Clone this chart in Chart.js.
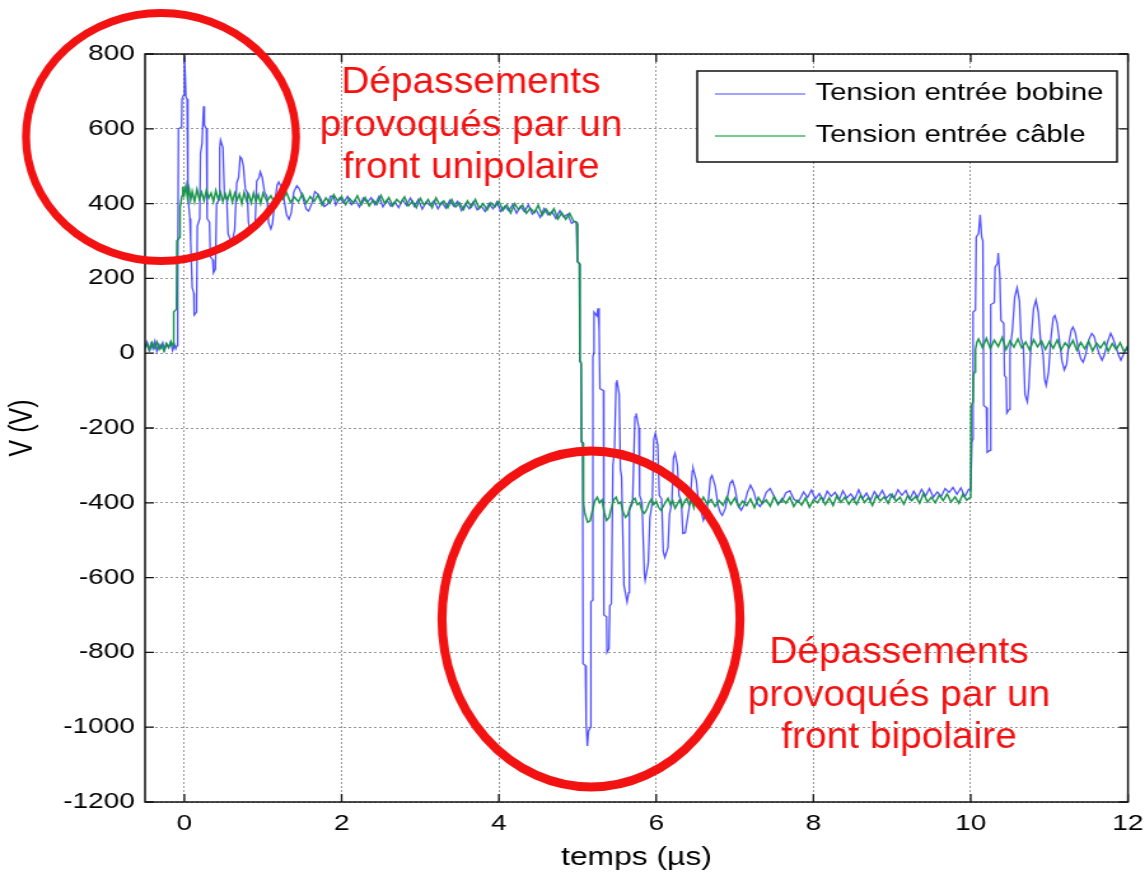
<!DOCTYPE html>
<html>
<head>
<meta charset="utf-8">
<script src="https://cdn.jsdelivr.net/npm/chart.js@4.4.1/dist/chart.umd.min.js"></script>
<style>
  html, body { margin: 0; padding: 0; background: #fff; overflow: hidden; }
  #wrap { width: 900px; height: 880px; transform: scale(1.2722222, 1); transform-origin: 0 0; }
  #c { display: block; }
</style>
</head>
<body>
<div id="wrap"><canvas id="c" width="900" height="880" style="width:900px;height:880px"></canvas></div>
<script>
// Axis ticks
const xTicks = [0, 2, 4, 6, 8, 10, 12];
const yTicks = [-1200, -1000, -800, -600, -400, -200, 0, 200, 400, 600, 800];

// Tension entrée bobine : [temps (µs), tension (V)]
const bobineAvant = [
  [-0.5, 18], [-0.475, 30], [-0.45, 8], [-0.425, 26], [-0.4, 12], [-0.375, 32], [-0.35, 5],
  [-0.325, 24], [-0.3, 14], [-0.275, 28], [-0.25, 9], [-0.225, 25], [-0.2, 16], [-0.175, 31],
  [-0.15, 7], [-0.125, 22], [-0.11, 12], [-0.095, 20]
];
const bobineFront1 = [
  [-0.085, 150], [-0.075, 600], [-0.035, 605], [-0.03, 680], [-0.01, 690], [0.0, 795], [0.012, 740],
  [0.02, 685], [0.035, 680], [0.045, 420], [0.07, 360], [0.08, 300], [0.1, 175], [0.12, 160],
  [0.125, 102], [0.155, 110], [0.165, 340], [0.195, 360], [0.205, 535], [0.225, 560], [0.235, 615],
  [0.245, 660], [0.255, 610], [0.28, 600], [0.29, 360], [0.32, 350], [0.33, 258], [0.36, 250],
  [0.37, 215], [0.395, 225], [0.41, 400], [0.44, 410], [0.45, 550], [0.46, 570], [0.49, 550],
  [0.51, 420], [0.54, 410], [0.555, 320], [0.59, 300], [0.62, 310], [0.64, 330], [0.665, 455],
  [0.69, 470], [0.71, 525], [0.73, 520], [0.75, 500], [0.775, 440], [0.8, 430], [0.815, 350],
  [0.84, 322], [0.87, 330], [0.9, 345], [0.92, 460], [0.95, 470], [0.965, 485], [0.99, 470],
  [1.02, 430], [1.05, 420], [1.07, 350], [1.1, 332], [1.12, 345], [1.15, 405], [1.18, 450],
  [1.2, 458], [1.23, 445], [1.26, 420], [1.3, 370], [1.33, 358], [1.36, 375], [1.39, 430],
  [1.43, 448], [1.46, 440], [1.5, 420], [1.55, 385], [1.58, 380], [1.62, 400], [1.66, 432],
  [1.7, 425], [1.74, 410], [1.78, 392], [1.82, 398], [1.86, 420], [1.9, 418]
];
const bobinePlateauHaut = [
  [1.925, 396], [1.975, 415], [2.025, 402], [2.075, 419], [2.125, 397], [2.175, 410], [2.225, 391],
  [2.275, 415], [2.325, 403], [2.375, 416], [2.425, 397], [2.475, 419], [2.525, 391], [2.575, 409],
  [2.625, 393], [2.675, 405], [2.725, 389], [2.775, 411], [2.825, 395], [2.875, 415], [2.925, 393],
  [2.975, 411], [3.025, 385], [3.075, 404], [3.125, 395], [3.175, 408], [3.225, 386], [3.275, 404],
  [3.325, 388], [3.375, 409], [3.425, 393], [3.475, 406], [3.525, 381], [3.575, 400], [3.625, 386],
  [3.675, 405], [3.725, 383], [3.775, 394], [3.825, 379], [3.875, 400], [3.925, 386], [3.975, 405],
  [4.025, 379], [4.075, 393], [4.125, 381], [4.175, 397], [4.225, 374], [4.275, 393], [4.325, 378],
  [4.375, 397], [4.425, 372], [4.475, 383], [4.525, 363], [4.575, 387], [4.625, 370], [4.675, 379],
  [4.725, 360], [4.775, 381], [4.825, 364], [4.875, 372], [4.925, 347], [4.96, 352]
];
const bobineFront2 = [
  [4.985, 350], [4.995, 345], [5.0, 245], [5.025, 238], [5.03, -22], [5.045, -28], [5.05, -238],
  [5.065, -242], [5.07, -830], [5.1, -835], [5.11, -990], [5.125, -1050], [5.14, -1010], [5.165, -1000],
  [5.17, -665], [5.19, -660], [5.195, -10], [5.205, 0], [5.21, 110], [5.245, 100], [5.26, 120],
  [5.275, 60], [5.285, -95], [5.33, -100], [5.335, -700], [5.37, -705], [5.375, -800], [5.4, -790],
  [5.41, -675], [5.43, -670], [5.45, -300], [5.47, -260], [5.49, -80], [5.5, -72], [5.53, -110],
  [5.545, -310], [5.56, -330], [5.59, -620], [5.63, -665], [5.65, -640], [5.66, -420], [5.7, -400],
  [5.73, -170], [5.745, -161], [5.78, -200], [5.79, -380], [5.82, -400], [5.85, -590], [5.86, -607],
  [5.9, -560], [5.92, -440], [5.95, -400], [5.97, -230], [5.99, -214], [6.02, -245], [6.04, -380],
  [6.07, -390], [6.09, -530], [6.11, -546], [6.15, -520], [6.17, -430], [6.2, -400], [6.22, -280],
  [6.24, -268], [6.27, -300], [6.29, -380], [6.32, -395], [6.34, -482], [6.37, -480], [6.4, -440],
  [6.43, -400], [6.46, -315], [6.47, -308], [6.51, -340], [6.54, -400], [6.57, -420], [6.6, -447],
  [6.63, -430], [6.66, -400], [6.69, -335], [6.71, -327], [6.75, -355], [6.79, -410], [6.82, -428],
  [6.84, -434], [6.88, -415], [6.91, -380], [6.94, -348], [6.97, -340], [7.0, -360], [7.04, -405],
  [7.08, -420], [7.12, -405], [7.16, -372], [7.2, -353], [7.24, -370], [7.28, -400], [7.32, -410],
  [7.36, -395], [7.4, -372], [7.45, -362], [7.5, -383], [7.55, -402], [7.6, -396], [7.65, -373],
  [7.7, -368], [7.75, -390], [7.8, -398]
];
const bobinePlateauBas = [
  [7.825, -392], [7.875, -371], [7.925, -386], [7.975, -366], [8.025, -390], [8.075, -375],
  [8.125, -395], [8.175, -369], [8.225, -383], [8.275, -372], [8.325, -393], [8.375, -368],
  [8.425, -387], [8.475, -376], [8.525, -391], [8.575, -365], [8.625, -389], [8.675, -374],
  [8.725, -394], [8.775, -370], [8.825, -385], [8.875, -367], [8.925, -388], [8.975, -377],
  [9.025, -388], [9.075, -365], [9.125, -380], [9.175, -367], [9.225, -391], [9.275, -369],
  [9.325, -386], [9.375, -364], [9.425, -382], [9.475, -362], [9.525, -385], [9.575, -371],
  [9.625, -383], [9.675, -362], [9.725, -372], [9.775, -359], [9.825, -377], [9.875, -360],
  [9.925, -384], [9.975, -364]
];
const bobineFront3 = [
  [10.0, -365], [10.015, -240], [10.025, -230], [10.03, 110], [10.06, 115], [10.07, 310], [10.1, 320],
  [10.12, 370], [10.14, 310], [10.155, 300], [10.165, -140], [10.2, -145], [10.21, -265], [10.245, -260],
  [10.255, 130], [10.3, 135], [10.31, 230], [10.34, 240], [10.35, 268], [10.37, 205], [10.385, 88],
  [10.42, 80], [10.43, -60], [10.45, -65], [10.46, -160], [10.49, -150], [10.5, 10], [10.53, 60],
  [10.56, 150], [10.59, 175], [10.62, 140], [10.64, 40], [10.67, 20], [10.69, -110], [10.72, -130],
  [10.74, -90], [10.77, 40], [10.8, 120], [10.83, 142], [10.86, 110], [10.89, 30], [10.92, 0],
  [10.94, -70], [10.96, -86], [10.99, -50], [11.02, 40], [11.05, 95], [11.07, 101], [11.1, 80],
  [11.13, 30], [11.16, -20], [11.19, -45], [11.22, -30], [11.25, 30], [11.28, 62], [11.3, 70],
  [11.33, 55], [11.37, 10], [11.4, -15], [11.43, -24], [11.46, -5], [11.5, 35], [11.54, 53],
  [11.57, 45], [11.6, 20], [11.64, -5], [11.67, -19], [11.7, -5], [11.74, 30], [11.78, 53],
  [11.81, 40], [11.85, 15], [11.88, -5], [11.91, -19], [11.95, 0], [12.0, 15]
];

// Tension entrée câble : [temps (µs), tension (V)]
const cableAvant = [
  [-0.5, 12], [-0.47, 25], [-0.44, 8], [-0.41, 28], [-0.38, 14], [-0.35, 30], [-0.32, 10],
  [-0.29, 22], [-0.26, 6], [-0.23, 26], [-0.2, 15], [-0.17, 30], [-0.14, 18]
];
const cableFront1 = [
  [-0.135, 110], [-0.1, 118], [-0.095, 300], [-0.06, 310], [-0.055, 390], [-0.03, 420], [-0.02, 445],
  [0.0, 425], [0.02, 448], [0.04, 415], [0.06, 440], [0.08, 410], [0.1, 432], [0.13, 405], [0.16, 438],
  [0.19, 412], [0.22, 430], [0.25, 408], [0.28, 436], [0.31, 415], [0.34, 428], [0.37, 405], [0.4, 435],
  [0.43, 412], [0.46, 430], [0.49, 406], [0.52, 426], [0.55, 410], [0.58, 432], [0.61, 404], [0.64, 428],
  [0.67, 410], [0.7, 425], [0.73, 400], [0.76, 430], [0.79, 408], [0.82, 424], [0.85, 402], [0.88, 428],
  [0.91, 406], [0.94, 424], [0.97, 400]
];
const cablePlateauHaut = [
  [1.0, 428], [1.05, 407], [1.1, 421], [1.15, 401], [1.2, 425], [1.25, 411], [1.3, 429], [1.35, 403],
  [1.4, 417], [1.45, 405], [1.5, 426], [1.55, 401], [1.6, 419], [1.65, 406], [1.7, 423], [1.75, 396],
  [1.8, 415], [1.85, 401], [1.9, 424], [1.95, 407], [2.0, 419], [2.05, 397], [2.1, 414], [2.15, 402],
  [2.2, 421], [2.25, 397], [2.3, 416], [2.35, 394], [2.4, 409], [2.45, 398], [2.5, 422], [2.55, 400],
  [2.6, 416], [2.65, 394], [2.7, 411], [2.75, 401], [2.8, 418], [2.85, 394], [2.9, 407], [2.95, 389],
  [3.0, 414], [3.05, 396], [3.1, 411], [3.15, 389], [3.2, 415], [3.25, 396], [3.3, 407], [3.35, 389],
  [3.4, 411], [3.45, 391], [3.5, 402], [3.55, 384], [3.6, 407], [3.65, 391], [3.7, 411], [3.75, 387],
  [3.8, 400], [3.85, 383], [3.9, 402], [3.95, 391], [4.0, 406], [4.05, 382], [4.1, 397], [4.15, 375],
  [4.2, 400], [4.25, 384], [4.3, 396], [4.35, 374], [4.4, 388], [4.45, 376], [4.5, 396], [4.55, 369],
  [4.6, 385], [4.65, 370], [4.7, 386], [4.75, 359], [4.8, 375], [4.85, 358], [4.9, 374], [4.95, 353]
];
const cableFront2 = [
  [4.98, 352], [4.995, 345], [5.0, 245], [5.025, 240], [5.03, -20], [5.045, -25], [5.05, -235],
  [5.07, -240], [5.075, -400], [5.09, -425], [5.11, -440], [5.13, -452], [5.16, -448], [5.19, -420],
  [5.22, -395], [5.25, -385], [5.28, -400], [5.31, -392], [5.34, -425], [5.37, -447], [5.4, -440],
  [5.43, -415], [5.46, -392], [5.49, -385], [5.52, -402], [5.55, -398], [5.58, -425], [5.61, -439],
  [5.64, -432], [5.67, -410], [5.7, -394], [5.73, -388], [5.76, -405], [5.79, -400], [5.82, -422],
  [5.85, -428], [5.88, -418], [5.91, -400], [5.94, -390], [5.97, -405], [6.0, -396], [6.03, -412],
  [6.06, -420], [6.09, -410], [6.12, -398], [6.15, -388], [6.18, -405], [6.21, -394], [6.24, -415],
  [6.27, -403], [6.3, -392], [6.33, -410], [6.36, -397], [6.39, -388], [6.42, -406], [6.45, -395],
  [6.48, -413]
];
const cablePlateauBas = [
  [6.5, -388], [6.55, -406], [6.6, -385], [6.65, -403], [6.7, -391], [6.75, -410], [6.8, -394],
  [6.85, -407], [6.9, -384], [6.95, -404], [7.0, -387], [7.05, -411], [7.1, -395], [7.15, -408],
  [7.2, -390], [7.25, -413], [7.3, -386], [7.35, -402], [7.4, -392], [7.45, -409], [7.5, -383],
  [7.55, -405], [7.6, -389], [7.65, -401], [7.7, -385], [7.75, -410], [7.8, -393], [7.85, -406],
  [7.9, -387], [7.95, -412], [8.0, -392], [8.05, -400], [8.1, -384], [8.15, -405], [8.2, -387],
  [8.25, -407], [8.3, -380], [8.35, -399], [8.4, -385], [8.45, -404], [8.5, -388], [8.55, -404],
  [8.6, -380], [8.65, -399], [8.7, -386], [8.75, -407], [8.8, -381], [8.85, -395], [8.9, -384],
  [8.95, -401], [9.0, -377], [9.05, -396], [9.1, -385], [9.15, -404], [9.2, -380], [9.25, -394],
  [9.3, -383], [9.35, -401], [9.4, -375], [9.45, -398], [9.5, -385], [9.55, -400], [9.6, -379],
  [9.65, -394], [9.7, -376], [9.75, -398], [9.8, -384], [9.85, -401], [9.9, -377], [9.95, -393],
  [9.99, -386]
];
const cableFront3 = [
  [10.0, -380], [10.005, -140], [10.03, -130], [10.035, -60], [10.05, -50], [10.06, 10], [10.08, 30],
  [10.1, 38], [10.15, 15], [10.2, 40], [10.25, 12], [10.3, 35], [10.35, 18], [10.4, 42], [10.45, 10],
  [10.5, 33], [10.55, 16], [10.6, 38], [10.65, 14], [10.7, 30], [10.75, 8], [10.8, 36], [10.85, 17],
  [10.9, 33], [10.95, 10], [11.0, 31], [11.05, 13], [11.1, 35], [11.15, 9], [11.2, 28], [11.25, 15],
  [11.3, 34], [11.35, 8], [11.4, 29], [11.45, 12], [11.5, 32], [11.55, 6], [11.6, 27], [11.65, 14],
  [11.7, 30], [11.75, 5], [11.8, 26], [11.85, 10], [11.9, 28], [11.95, 4], [12.0, 20]
];

const bobine = [...bobineAvant, ...bobineFront1, ...bobinePlateauHaut, ...bobineFront2, ...bobinePlateauBas, ...bobineFront3];
const cable = [...cableAvant, ...cableFront1, ...cablePlateauHaut, ...cableFront2, ...cablePlateauBas, ...cableFront3];

const noteUni = ['Dépassements', 'provoqués par un', 'front unipolaire'];
const noteBi = ['Dépassements', 'provoqués par un', 'front bipolaire'];

// The canvas is drawn 900 px wide and shown stretched to 1145 px.
const K = 1145 / 900;
const FONT = '"Liberation Sans", Arial, Helvetica, sans-serif';
const BLUE = 'rgba(40, 40, 255, 0.8)';
const GREEN = 'rgba(20, 145, 70, 0.95)';
const RED = 'rgb(242, 18, 18)';

Chart.defaults.font.family = FONT;
Chart.defaults.color = '#000';

const decor = {
  id: 'decor',
  afterDatasetsDraw(chart) {
    const { ctx, chartArea: a, scales: { x, y } } = chart;
    ctx.save();
    // axes box
    ctx.strokeStyle = '#111';
    ctx.lineWidth = 1.5;
    ctx.setLineDash([]);
    ctx.strokeRect(a.left, a.top, a.right - a.left, a.bottom - a.top);
    // inward ticks on all four sides
    ctx.lineWidth = 1.3;
    ctx.beginPath();
    x.ticks.forEach(t => {
      const px = x.getPixelForValue(t.value);
      ctx.moveTo(px, a.bottom); ctx.lineTo(px, a.bottom - 8);
      ctx.moveTo(px, a.top); ctx.lineTo(px, a.top + 8);
    });
    y.ticks.forEach(t => {
      const py = y.getPixelForValue(t.value);
      ctx.moveTo(a.left, py); ctx.lineTo(a.left + 7, py);
      ctx.moveTo(a.right, py); ctx.lineTo(a.right - 7, py);
    });
    ctx.stroke();

    // legend box
    const lg = { left: 548, top: 71, right: 878, bottom: 162 };
    ctx.fillStyle = '#fff';
    ctx.fillRect(lg.left, lg.top, lg.right - lg.left, lg.bottom - lg.top);
    ctx.strokeStyle = '#111';
    ctx.lineWidth = 1.5;
    ctx.strokeRect(lg.left, lg.top, lg.right - lg.left, lg.bottom - lg.top);
    const rows = [94, 136];
    const sample = ['rgba(90, 90, 255, 0.75)', 'rgba(30, 175, 85, 0.85)'];
    ctx.font = '23px ' + FONT;
    ctx.textBaseline = 'middle';
    ctx.textAlign = 'left';
    chart.data.datasets.forEach((ds, i) => {
      ctx.strokeStyle = sample[i];
      ctx.lineWidth = 1.6;
      ctx.beginPath();
      ctx.moveTo(562, rows[i]);
      ctx.lineTo(633, rows[i]);
      ctx.stroke();
      ctx.fillStyle = '#000';
      ctx.fillText(ds.label, 641, rows[i]);
    });
    ctx.restore();
  },
  afterDraw(chart) {
    const { ctx } = chart;
    // red call-outs, laid out in display pixels
    ctx.save();
    ctx.scale(1 / K, 1);
    ctx.strokeStyle = RED;
    ctx.lineWidth = 8;
    ctx.beginPath();
    ctx.ellipse(161, 137, 135, 124, 0, 0, Math.PI * 2);
    ctx.stroke();
    ctx.lineWidth = 9;
    ctx.beginPath();
    ctx.ellipse(591, 619, 149, 168, 0, 0, Math.PI * 2);
    ctx.stroke();

    const S = 1.08;
    ctx.scale(S, 1);
    ctx.fillStyle = RED;
    ctx.font = '36px ' + FONT;
    ctx.textAlign = 'center';
    ctx.textBaseline = 'alphabetic';
    noteUni.forEach((s, i) => ctx.fillText(s, 471 / S, 93 + i * 42.5));
    noteBi.forEach((s, i) => ctx.fillText(s, 899 / S, 663 + i * 42.5));
    ctx.restore();
  }
};

new Chart(document.getElementById('c'), {
  type: 'line',
  data: {
    datasets: [
      {
        label: 'Tension entrée bobine',
        data: bobine.map(([x, y]) => ({ x, y })),
        borderColor: BLUE,
        borderWidth: 1.3,
        pointRadius: 0,
        tension: 0,
        order: 1
      },
      {
        label: 'Tension entrée câble',
        data: cable.map(([x, y]) => ({ x, y })),
        borderColor: GREEN,
        borderWidth: 1.5,
        pointRadius: 0,
        tension: 0,
        order: 0
      }
    ]
  },
  options: {
    responsive: false,
    devicePixelRatio: 1,
    animation: false,
    events: [],
    layout: { padding: { left: 0, right: 13.4, top: 54, bottom: 0 } },
    plugins: { legend: { display: false }, tooltip: { enabled: false } },
    scales: {
      x: {
        type: 'linear',
        min: -0.5,
        max: 12,
        afterBuildTicks: s => { s.ticks = xTicks.map(v => ({ value: v })); },
        afterFit: s => { s.height = 78; s.paddingLeft = 0; s.paddingRight = 0; },
        grid: { color: 'rgba(0,0,0,0.42)', lineWidth: 1, drawTicks: false },
        border: { display: false, dash: [2, 2] },
        ticks: { font: { size: 22 }, padding: 9, maxRotation: 0, callback: v => String(v) },
        title: { display: true, text: 'temps (µs)', font: { size: 25 }, padding: { top: 0, bottom: 7 } }
      },
      y: {
        type: 'linear',
        min: -1200,
        max: 800,
        afterBuildTicks: s => { s.ticks = yTicks.map(v => ({ value: v })); },
        afterFit: s => { s.width = 114; s.paddingTop = 0; s.paddingBottom = 0; },
        grid: { color: 'rgba(0,0,0,0.42)', lineWidth: 1, drawTicks: false },
        border: { display: false, dash: [2, 2] },
        ticks: { font: { size: 22 }, padding: 8, callback: v => String(v) },
        title: { display: true, text: 'V (V)', font: { size: 25 }, padding: { top: 3, bottom: 0 } }
      }
    }
  },
  plugins: [decor]
});
</script>
</body>
</html>
